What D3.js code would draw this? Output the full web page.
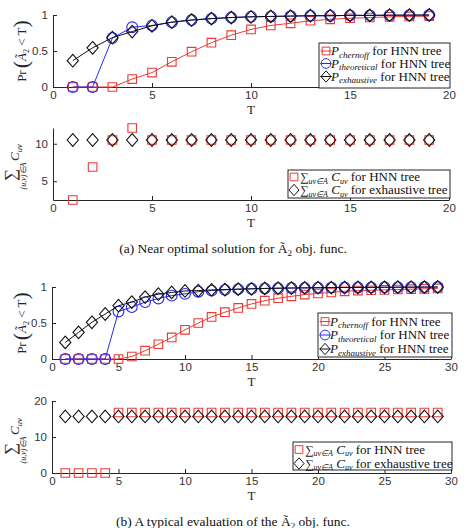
<!DOCTYPE html>
<html><head><meta charset="utf-8">
<script src="https://cdn.jsdelivr.net/npm/d3@7"></script>
<style>body{margin:0;background:#fff}svg{display:block}</style>
</head><body><svg id="c" width="467" height="528"></svg>
<script>
// ---------- data ----------
const tA = [1,2,3,4,5,6,7,8,9,10,11,12,13,14,15,16,17,18,19];
const chernoffA = [0,0,0,0.11,0.2,0.35,0.49,0.615,0.72,0.8,0.855,0.885,0.92,0.94,0.955,0.965,0.975,0.98,0.985];
const theoreticalA = [0,0,0.68,0.83,0.855,0.9,0.93,0.95,0.965,0.975,0.98,0.985,0.99,0.99,0.995,0.995,0.997,0.998,1.0];
const exhaustiveA = [0.365,0.545,0.685,0.77,0.85,0.9,0.93,0.95,0.965,0.975,0.98,0.985,0.99,0.99,0.995,0.995,0.997,0.998,1.0];
const costHnnA = [2.5,6.9,10.5,12.1,10.5,10.5,10.5,10.5,10.5,10.5,10.5,10.5,10.5,10.5,10.5,10.5,10.5,10.5,10.5];
const costExhA = [10.5,10.5,10.5,10.5,10.5,10.5,10.5,10.5,10.5,10.5,10.5,10.5,10.5,10.5,10.5,10.5,10.5,10.5,10.5];

const tB = [1,2,3,4,5,6,7,8,9,10,11,12,13,14,15,16,17,18,19,20,21,22,23,24,25,26,27,28,29];
const chernoffB = [0,0,0,0,0,0.035,0.115,0.205,0.3,0.405,0.5,0.585,0.65,0.71,0.765,0.81,0.845,0.87,0.895,0.91,0.925,0.94,0.95,0.955,0.96,0.965,0.97,0.975,0.98];
const theoreticalB = [0,0,0,0,0.66,0.72,0.79,0.84,0.88,0.905,0.935,0.95,0.96,0.97,0.975,0.98,0.983,0.986,0.988,0.99,0.992,0.993,0.994,0.995,0.996,0.997,0.998,0.999,1.0];
const exhaustiveB = [0.23,0.37,0.51,0.625,0.74,0.79,0.86,0.9,0.925,0.945,0.95,0.96,0.965,0.97,0.975,0.98,0.983,0.986,0.988,0.99,0.992,0.993,0.994,0.995,0.996,0.997,0.998,0.999,1.0];
const costHnnB = [0,0,0,0,16.8,16.8,16.8,16.8,16.8,16.8,16.8,16.8,16.8,16.8,16.8,16.8,16.8,16.8,16.8,16.8,16.8,16.8,16.8,16.8,16.8,16.8,16.8,16.8,16.8];
const costExhB = [15.7,15.7,15.7,15.7,15.7,15.7,15.7,15.7,15.7,15.7,15.7,15.7,15.7,15.7,15.7,15.7,15.7,15.7,15.7,15.7,15.7,15.7,15.7,15.7,15.7,15.7,15.7,15.7,15.7];

const xTicksA = [0,5,10,15,20];
const xTicksB = [0,5,10,15,20,25,30];
const probTicks = [0,0.5,1];
const costTicksA = [5,10];
const costTicksB = [0,10,20];

const probLegend = [
  {sub:"chernoff", rest:" for HNN tree", marker:"square", color:"#ee3a34"},
  {sub:"theoretical", rest:" for HNN tree", marker:"circle", color:"#2a2aee"},
  {sub:"exhaustive", rest:" for HNN tree", marker:"diamond", color:"#111"}
];
const costLegend = [
  {rest:" for HNN tree", marker:"square", color:"#ee3a34"},
  {rest:" for exhaustive tree", marker:"diamond", color:"#111"}
];
const captionA = "(a) Near optimal solution for Ã";
const captionB = "(b) A typical evaluation of the Ã";

// ---------- drawing ----------
const svg = d3.select("#c");
svg.append("rect").attr("width",467).attr("height",528).attr("fill","#fff");
const AX = "#262626";
const SANS = "'Liberation Sans', Arial, sans-serif";
const SERIF = "'Liberation Serif', 'Times New Roman', serif";
const RED = "#ee3a34", BLUE = "#2a2aee", BLACK = "#111";

function markerPath(type){
  if(type==="square") return "M-4.3,-4.3H4.3V4.3H-4.3Z";
  if(type==="circle") return d3.symbol(d3.symbolCircle, Math.PI*5.4*5.4)();
  return "M0,-6.3L5.6,0L0,6.3L-5.6,0Z";
}

function axes(g, x, y, xt, yt, yfmt){
  const xa = g.append("g").attr("transform",`translate(0,${y.range()[0]})`)
    .call(d3.axisBottom(x).tickValues(xt).tickSizeInner(-4).tickSizeOuter(0).tickPadding(4).tickFormat(d3.format("d")));
  const ya = g.append("g").attr("transform",`translate(${x.range()[0]},0)`)
    .call(d3.axisLeft(y).tickValues(yt).tickSizeInner(-4).tickSizeOuter(0).tickPadding(5).tickFormat(yfmt));
  [xa,ya].forEach(a=>{
    a.select(".domain").attr("stroke",AX).attr("stroke-width",1);
    a.selectAll(".tick line").attr("stroke",AX);
    a.selectAll("text").attr("fill","#333").attr("font-family",SANS).attr("font-size",11.5);
  });
  g.append("text").attr("x",(x.range()[0]+x.range()[1])/2).attr("y",y.range()[0]+27)
    .attr("text-anchor","middle").attr("font-family",SERIF).attr("font-size",13).attr("fill",AX).text("T");
}

function series(g, x, y, ts, vs, type, color, withLine){
  const pts = ts.map((t,i)=>[t,vs[i]]);
  if(withLine){
    g.append("path").attr("d", d3.line().x(d=>x(d[0])).y(d=>y(d[1]))(pts))
      .attr("fill","none").attr("stroke",color).attr("stroke-width",1);
  }
  g.selectAll(null).data(pts).enter().append("path")
    .attr("d",markerPath(type)).attr("transform",d=>`translate(${x(d[0])},${y(d[1])})`)
    .attr("fill","none").attr("stroke",color).attr("stroke-width",1.1);
}

function legendBox(g, x0, y0, w, h){
  g.append("rect").attr("x",x0).attr("y",y0).attr("width",w).attr("height",h)
    .attr("fill","#fff").attr("stroke",AX).attr("stroke-width",1);
}

function probLegendDraw(g, x0, y0, w, h, rows){
  legendBox(g,x0,y0,w,h);
  probLegend.forEach((d,i)=>{
    const cy = rows[i], mx = x0+7;
    g.append("line").attr("x1",mx-5.5).attr("x2",mx+5.5).attr("y1",cy).attr("y2",cy).attr("stroke",d.color);
    g.append("path").attr("d",markerPath(d.marker)).attr("transform",`translate(${mx},${cy}) scale(0.9)`)
      .attr("fill","none").attr("stroke",d.color).attr("stroke-width",1.1);
    const t = g.append("text").attr("x",mx+5).attr("y",cy+4).attr("font-family",SERIF).attr("fill","#111").attr("font-size",13);
    t.append("tspan").attr("font-style","italic").text("P");
    t.append("tspan").attr("font-style","italic").attr("font-size",9).attr("dy",2.5).text(d.sub);
    t.append("tspan").attr("dy",-2.5).text(d.rest);
  });
}

function costLegendDraw(g, x0, y0, w, h, rows){
  legendBox(g,x0,y0,w,h);
  costLegend.forEach((d,i)=>{
    const cy = rows[i], mx = x0+6;
    g.append("path").attr("d",markerPath(d.marker)).attr("transform",`translate(${mx},${cy}) scale(0.9)`)
      .attr("fill","none").attr("stroke",d.color).attr("stroke-width",1.1);
    const t = g.append("text").attr("x",mx+6).attr("y",cy+4).attr("font-family",SERIF).attr("fill","#111").attr("font-size",13);
    t.append("tspan").attr("font-size",12).text("∑");
    t.append("tspan").attr("font-style","italic").attr("font-size",8).attr("dy",2.5).text("uv∈A");
    t.append("tspan").attr("dy",-2.5).attr("font-style","italic").text(" C");
    t.append("tspan").attr("font-style","italic").attr("font-size",8).attr("dy",2.5).text("uv");
    t.append("tspan").attr("dy",-2.5).text(d.rest);
  });
}

function probYLabel(cx, cy){
  const g = svg.append("g").attr("transform",`translate(${cx},${cy}) rotate(-90)`);
  const t = g.append("text").attr("text-anchor","middle").attr("font-family",SERIF).attr("fill",AX).attr("font-size",13).attr("y",4);
  t.append("tspan").text("Pr");
  t.append("tspan").attr("font-size",22).attr("dy",2).attr("dx",2).text("(");
  t.append("tspan").attr("dy",-2).attr("font-style","italic").text("Ã");
  t.append("tspan").attr("font-size",8).attr("dy",3).text("2");
  t.append("tspan").attr("dy",-3).text(" < T");
  t.append("tspan").attr("font-size",22).attr("dy",2).text(")");
}

// label placed in rotated frame: local x = -screenY, local y = screenX
function costYLabel(mid){
  const g = svg.append("g").attr("transform",`rotate(-90)`);
  g.append("text").attr("x",-(mid+11)).attr("y",16).attr("text-anchor","middle").attr("font-family",SERIF).attr("font-size",17).attr("fill",AX).text("∑");
  g.append("text").attr("x",-(mid+12)).attr("y",26).attr("text-anchor","middle").attr("font-family",SERIF).attr("font-style","italic").attr("font-size",8).attr("fill",AX).text("(u,v)∈A");
  const t = g.append("text").attr("x",-(mid-3)).attr("y",19).attr("font-family",SERIF).attr("font-style","italic").attr("font-size",13).attr("fill",AX);
  t.append("tspan").text("C");
  t.append("tspan").attr("font-size",8.5).attr("dy",3).text("uv");
}

function caption(txt, cx, by){
  const t = svg.append("text").attr("x",cx).attr("y",by).attr("text-anchor","middle").attr("font-family",SERIF).attr("font-size",13.5).attr("fill","#111");
  t.append("tspan").text(txt);
  t.append("tspan").attr("font-size",9).attr("dy",3).text("2");
  t.append("tspan").attr("dy",-3).text(" obj. func.");
}

// Panel 1
{
  const x = d3.scaleLinear().domain([0,20]).range([53,449]);
  const y = d3.scaleLinear().domain([0,1]).range([87,15]);
  const g = svg.append("g");
  axes(g,x,y,xTicksA,probTicks,d3.format("~g"));
  series(g,x,y,tA,chernoffA,"square",RED,true);
  series(g,x,y,tA,theoreticalA,"circle",BLUE,true);
  series(g,x,y,tA,exhaustiveA,"diamond",BLACK,true);
  probLegendDraw(g,319,43,131,45,[51,63.5,76.5]);
  probYLabel(22,51);
}
// Panel 2
{
  const x = d3.scaleLinear().domain([0,20]).range([53,449]);
  const y = d3.scaleLinear().domain([2.5,12.1]).range([200,128]);
  const g = svg.append("g");
  axes(g,x,y,xTicksA,costTicksA,d3.format("d"));
  series(g,x,y,tA,costHnnA,"square",RED,false);
  series(g,x,y,tA,costExhA,"diamond",BLACK,false);
  costLegendDraw(g,288,170,162,28,[177,190]);
  costYLabel(164);
}
// Panel 3
{
  const x = d3.scaleLinear().domain([0,30]).range([52,451]);
  const y = d3.scaleLinear().domain([0,1]).range([359,287]);
  const g = svg.append("g");
  axes(g,x,y,xTicksB,probTicks,d3.format("~g"));
  series(g,x,y,tB,chernoffB,"square",RED,true);
  series(g,x,y,tB,theoreticalB,"circle",BLUE,true);
  series(g,x,y,tB,exhaustiveB,"diamond",BLACK,true);
  probLegendDraw(g,318,313,134,44,[321.5,335,349]);
  probYLabel(22,323);
}
// Panel 4
{
  const x = d3.scaleLinear().domain([0,30]).range([52,451]);
  const y = d3.scaleLinear().domain([0,20]).range([473,401]);
  const g = svg.append("g");
  axes(g,x,y,xTicksB,costTicksB,d3.format("d"));
  series(g,x,y,tB,costHnnB,"square",RED,false);
  series(g,x,y,tB,costExhB,"diamond",BLACK,false);
  costLegendDraw(g,293,442,159,28,[449.5,463.5]);
  costYLabel(438);
}
caption(captionA,233,253);
caption(captionB,233,526);
</script></body></html>
